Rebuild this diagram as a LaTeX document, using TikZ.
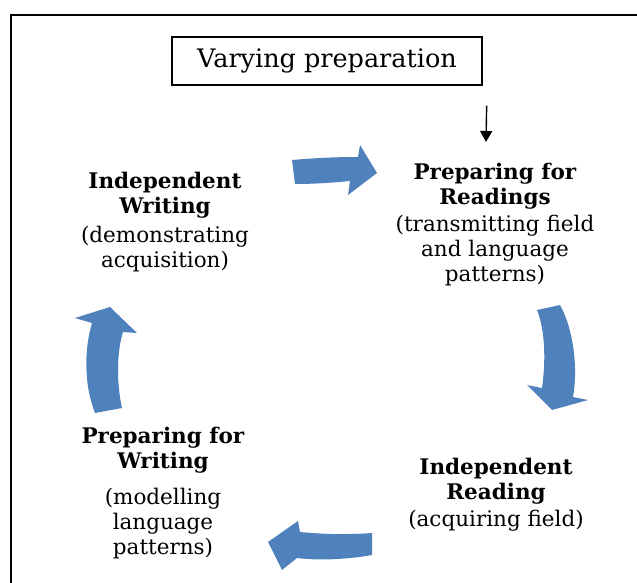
\documentclass[tikz,border=0pt]{standalone}
\usepackage{fontspec}
\setmainfont{DejaVu Serif}
\usepackage{tikz}
\usetikzlibrary{arrows.meta}
\definecolor{cycleblue}{RGB}{79,129,189}
\tikzset{
    stage/.style = {align = center, inner sep = 0pt, font = \fontsize{21.5}{25}\selectfont},
    bluearrow/.style = {fill = cycleblue, draw = none},
}

\begin{document}
\begin{tikzpicture}[x = 1pt, y = -1pt]
\useasboundingbox (0,0) rectangle (637,583);
\draw[line width = 2.4pt] (637,15) -- (11,15) -- (11,583);

\node[draw, line width = 1.3pt, minimum width = 310pt, minimum height = 48pt, font = \fontsize{25.5}{28}\selectfont] (vary) at (327,61) {Varying preparation};

\node[stage, anchor = north] (prepR) at (495,163) {\textbf{Preparing for}\\\textbf{Readings}\\[2pt](transmitting field\\and language\\patterns)};
\node[stage, anchor = north] (indR) at (496,458) {\textbf{Independent}\\\textbf{Reading}\\[2pt](acquiring field)};
\node[stage, anchor = north] (prepW) at (163,427) {\textbf{Preparing for}\\\textbf{Writing}\\[11pt](modelling\\language\\patterns)};
\node[stage, anchor = north] (indW) at (165,172) {\textbf{Independent}\\\textbf{Writing}\\[4pt](demonstrating\\acquisition)};

\draw[line width = 1.4pt, -{Triangle[length = 11pt, width = 12pt]}] ([xshift = 4pt, yshift = -20pt]vary.south east) -- ([xshift = -9pt, yshift = 21pt]prepR.north);

\fill[bluearrow] (292,160) .. controls (315,158) and (335,157) .. (358,157) -- (360,145) -- (377,173) -- (348,195) -- (350,181) .. controls (330,183) and (312,184) .. (295,184) -- cycle;
\fill[bluearrow] (537,310) .. controls (545,330) and (546,360) .. (542,388) -- (527,385) -- (552,410) -- (588,400) -- (573,397) .. controls (578,370) and (574,330) .. (560,305) -- cycle;
\fill[bluearrow] (372,533) .. controls (345,535) and (320,534) .. (300,532) -- (298,521) -- (268,542) -- (282,570) -- (297,558) .. controls (320,561) and (350,559) .. (372,555) -- cycle;
\fill[bluearrow] (95,413) .. controls (84,385) and (84,350) .. (92,323) -- (75,318) -- (110,307) -- (137,333) -- (123,332) .. controls (116,355) and (117,385) .. (122,408) -- cycle;
\end{tikzpicture}
\end{document}
